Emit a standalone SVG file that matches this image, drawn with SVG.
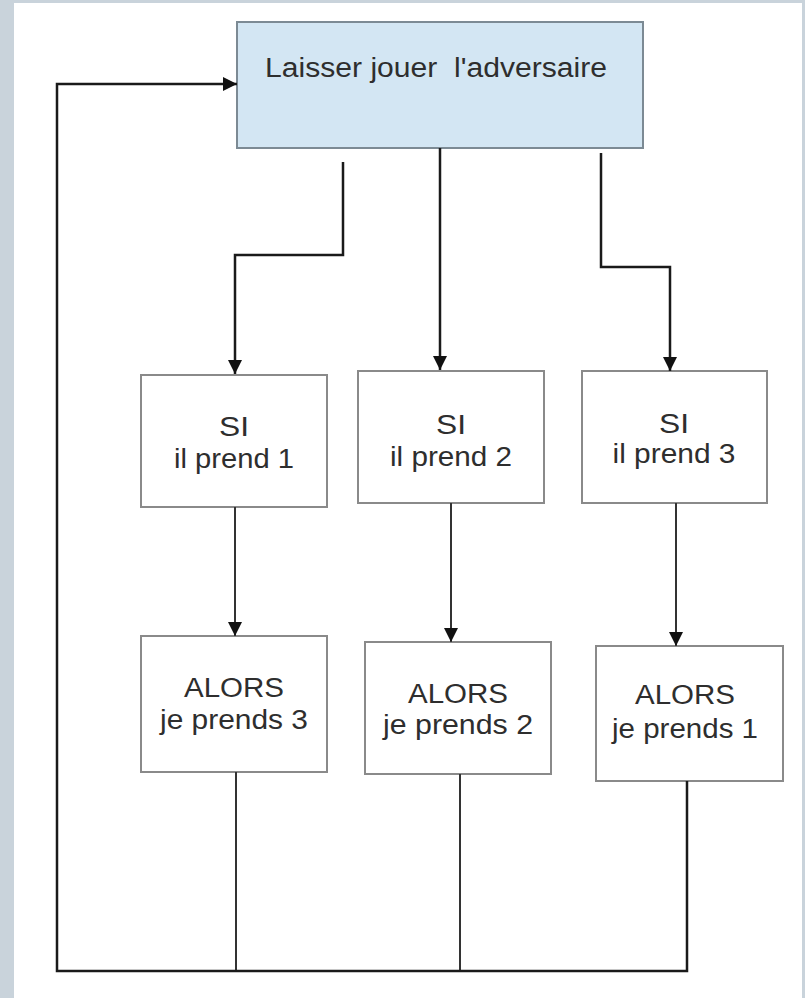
<svg xmlns="http://www.w3.org/2000/svg" width="805" height="998" viewBox="0 0 805 998">
<defs>
<marker id="arr" markerWidth="13" markerHeight="14" refX="14" refY="7" orient="auto" markerUnits="userSpaceOnUse">
<path d="M0,0 L14,7 L0,14 Z" fill="#111"/>
</marker>
<style>
.box{fill:#fff;stroke:#8a8a8a;stroke-width:2}
.top{fill:#d3e6f3;stroke:#7c8a94;stroke-width:2}
.t{font-family:"Liberation Sans",Arial,sans-serif;font-size:27px;fill:#2e2e2e;text-anchor:middle;white-space:pre}
.c{fill:none;stroke:#1a1a1a;stroke-width:2.5}
.c2{fill:none;stroke:#333;stroke-width:2}
</style>
</defs>
<rect x="0" y="0" width="805" height="998" fill="#c9d3db"/>
<rect x="14" y="3" width="788" height="995" fill="#fff"/>
<g id="n0">
<rect class="top" x="237" y="22" width="406" height="126"/>
<text class="t" x="436" y="77" textLength="342" lengthAdjust="spacingAndGlyphs" xml:space="preserve">Laisser jouer  l'adversaire</text>
</g>
<g id="si1">
<rect class="box" x="141" y="375" width="186" height="132"/>
<text class="t" x="234" y="436" textLength="30" lengthAdjust="spacingAndGlyphs">SI</text>
<text class="t" x="234" y="468" textLength="120" lengthAdjust="spacingAndGlyphs">il prend 1</text>
</g>
<g id="si2">
<rect class="box" x="358" y="371" width="186" height="132"/>
<text class="t" x="451" y="434" textLength="30" lengthAdjust="spacingAndGlyphs">SI</text>
<text class="t" x="451" y="466" textLength="122" lengthAdjust="spacingAndGlyphs">il prend 2</text>
</g>
<g id="si3">
<rect class="box" x="582" y="371" width="185" height="132"/>
<text class="t" x="674" y="433" textLength="30" lengthAdjust="spacingAndGlyphs">SI</text>
<text class="t" x="674" y="463" textLength="123" lengthAdjust="spacingAndGlyphs">il prend 3</text>
</g>
<g id="al1">
<rect class="box" x="141" y="636" width="186" height="136"/>
<text class="t" x="234" y="697" textLength="100" lengthAdjust="spacingAndGlyphs">ALORS</text>
<text class="t" x="234" y="729" textLength="148" lengthAdjust="spacingAndGlyphs">je prends 3</text>
</g>
<g id="al2">
<rect class="box" x="365" y="642" width="186" height="132"/>
<text class="t" x="458" y="703" textLength="100" lengthAdjust="spacingAndGlyphs">ALORS</text>
<text class="t" x="458" y="734" textLength="150" lengthAdjust="spacingAndGlyphs">je prends 2</text>
</g>
<g id="al3">
<rect class="box" x="596" y="646" width="187" height="135"/>
<text class="t" x="685" y="704" textLength="100" lengthAdjust="spacingAndGlyphs">ALORS</text>
<text class="t" x="685" y="738" textLength="146" lengthAdjust="spacingAndGlyphs">je prends 1</text>
</g>
<g id="connectors">
<path class="c" d="M343,162 V255 H235 V374" marker-end="url(#arr)"/>
<path class="c" d="M440,148 V370" marker-end="url(#arr)"/>
<path class="c" d="M601,153 V267 H670 V371" marker-end="url(#arr)"/>
<path class="c2" d="M235,507 V636" marker-end="url(#arr)"/>
<path class="c2" d="M451,503 V642" marker-end="url(#arr)"/>
<path class="c2" d="M676,503 V646" marker-end="url(#arr)"/>
<path class="c2" d="M236,772 V971"/>
<path class="c2" d="M460,774 V971"/>
<path class="c" d="M687,781 V971 H57 V84 H237" marker-end="url(#arr)"/>
</g>
</svg>
